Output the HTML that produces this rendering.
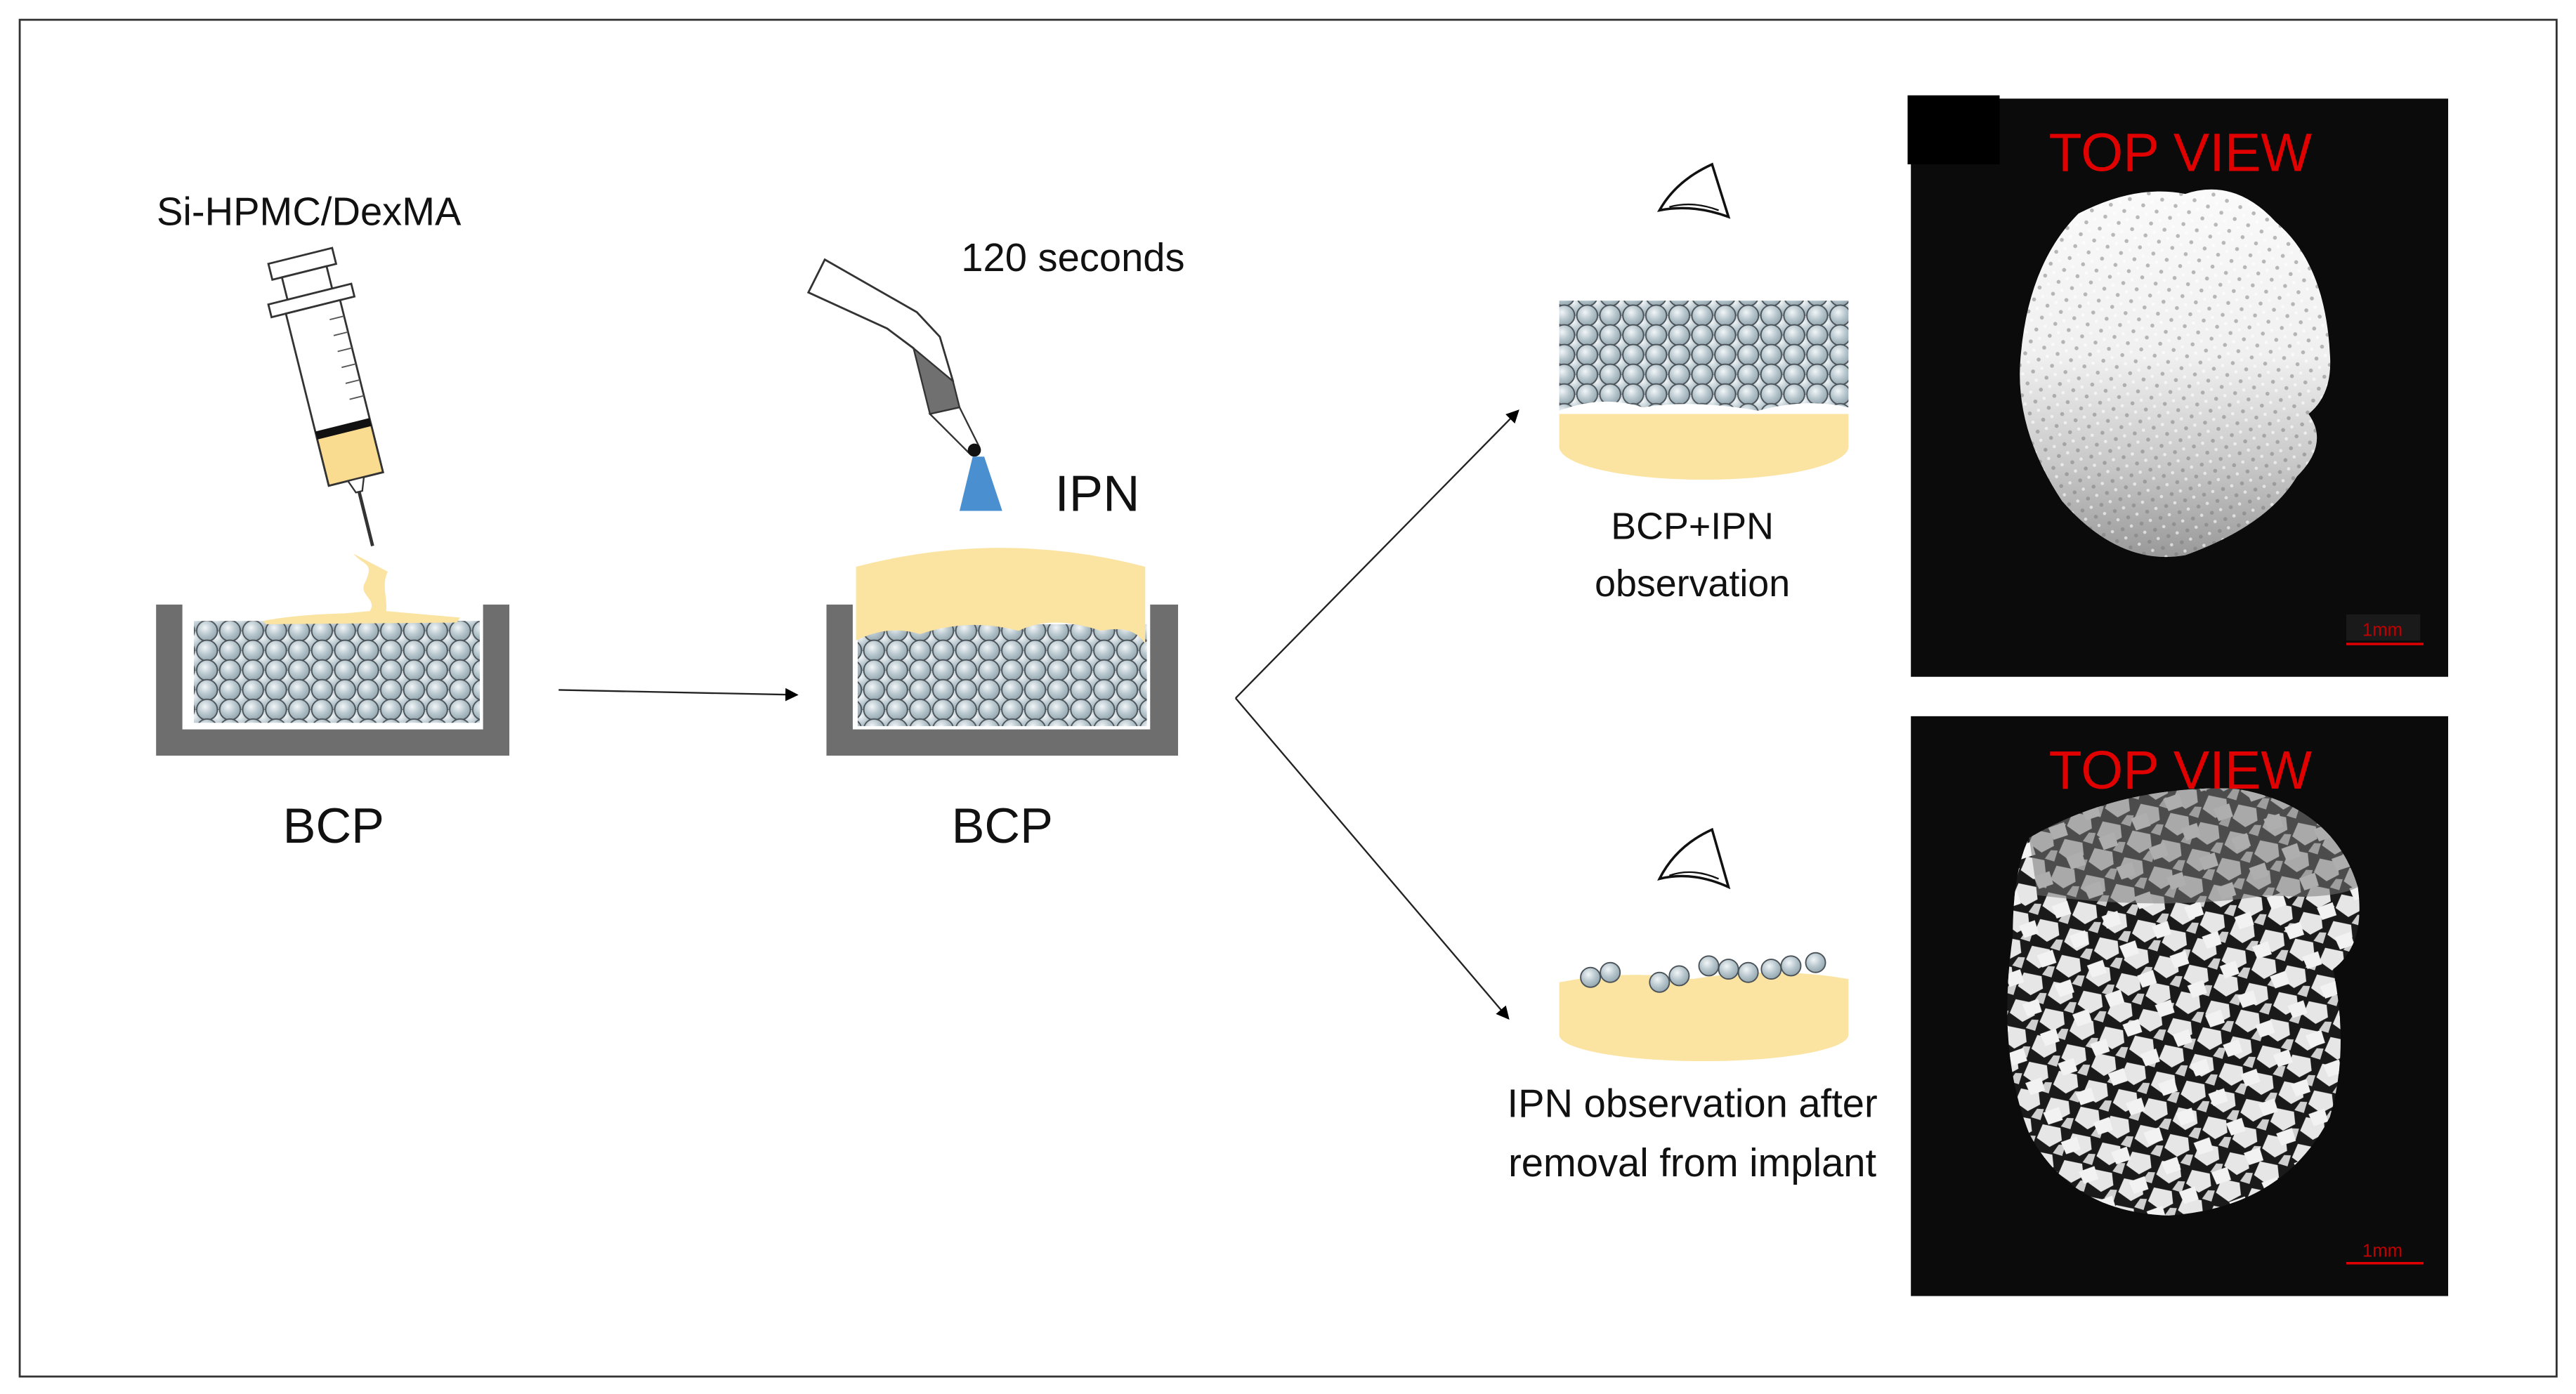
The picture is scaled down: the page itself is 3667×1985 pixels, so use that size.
<!DOCTYPE html>
<html><head><meta charset="utf-8"><style>
html,body{margin:0;padding:0;background:#fff;}
svg{display:block;}
text{font-family:"Liberation Sans","DejaVu Sans",sans-serif;}
</style></head><body>
<svg width="3667" height="1985" viewBox="0 0 1567.8 848.6" xmlns="http://www.w3.org/2000/svg">
<defs>
<radialGradient id="ballg" cx="0.4" cy="0.35" r="0.7">
<stop offset="0" stop-color="#f2f6f8"/><stop offset="0.5" stop-color="#b9c8cf"/><stop offset="1" stop-color="#8fa1aa"/>
</radialGradient>
<pattern id="balls" width="14" height="12" patternUnits="userSpaceOnUse">
<circle cx="7" cy="6" r="6.3" fill="url(#ballg)" stroke="#4a5258" stroke-width="0.8"/>
<circle cx="0" cy="0" r="6.3" fill="url(#ballg)" stroke="#4a5258" stroke-width="0.8"/>
<circle cx="14" cy="0" r="6.3" fill="url(#ballg)" stroke="#4a5258" stroke-width="0.8"/>
<circle cx="0" cy="12" r="6.3" fill="url(#ballg)" stroke="#4a5258" stroke-width="0.8"/>
<circle cx="14" cy="12" r="6.3" fill="url(#ballg)" stroke="#4a5258" stroke-width="0.8"/>
</pattern>
<linearGradient id="blob1" x1="0" y1="0" x2="0" y2="1">
<stop offset="0" stop-color="#fafafa"/><stop offset="0.45" stop-color="#f0f0f0"/><stop offset="0.75" stop-color="#c8c8c8"/><stop offset="1" stop-color="#999"/>
</linearGradient>
<pattern id="speck" width="9" height="8" patternUnits="userSpaceOnUse" patternTransform="rotate(25)">
<rect width="9" height="8" fill="none"/>
<circle cx="2" cy="2" r="1.2" fill="#777" opacity="0.5"/>
<circle cx="6" cy="6" r="1" fill="#fff" opacity="0.6"/>
</pattern>
<pattern id="grains" width="19" height="17" patternUnits="userSpaceOnUse" patternTransform="rotate(17)">
<rect width="19" height="17" fill="#1a1a1a"/>
<polygon points="2,2 13,1 16,8 10,14 1,11" fill="#e6e6e6"/>
<polygon points="15,11 19,10 19,17 13,17" fill="#cfcfcf"/>
</pattern>
<pattern id="grains2" width="23" height="21" patternUnits="userSpaceOnUse" patternTransform="rotate(-31)">
<rect width="23" height="21" fill="none"/>
<polygon points="4,3 14,5 12,13 3,11" fill="#f2f2f2"/>
</pattern>
<marker id="ah" markerWidth="8" markerHeight="8" refX="7" refY="4" orient="auto" markerUnits="userSpaceOnUse">
<path d="M0,0 L8,4 L0,8 z" fill="#000"/>
</marker>
</defs>

<rect x="12" y="12" width="1544" height="826" fill="#fff" stroke="#333" stroke-width="1.2"/>

<!-- Syringe -->
<g transform="translate(205,245) rotate(-14)">
<rect x="-20" y="-92" width="40" height="10" fill="#fff" stroke="#333" stroke-width="1.2"/>
<rect x="-14" y="-82" width="28" height="14" fill="#fff" stroke="#333" stroke-width="1.2"/>
<rect x="-26" y="-68" width="52" height="8" fill="#fff" stroke="#333" stroke-width="1.2"/>
<rect x="-17" y="-60" width="34" height="108" fill="#fff" stroke="#333" stroke-width="1.2"/>
<rect x="-17" y="18" width="34" height="30" fill="#f9dc8f" stroke="#333" stroke-width="1.2"/>
<rect x="-17" y="14" width="34" height="5" fill="#111"/>
<g stroke="#555" stroke-width="0.8"><line x1="8" y1="-50" x2="17" y2="-50"/><line x1="8" y1="-40" x2="17" y2="-40"/><line x1="8" y1="-30" x2="17" y2="-30"/><line x1="8" y1="-20" x2="17" y2="-20"/><line x1="8" y1="-10" x2="17" y2="-10"/><line x1="8" y1="0" x2="17" y2="0"/></g>
<path d="M-5,48 L5,48 L2,56 L-2,56 z" fill="#fff" stroke="#333"/>
<line x1="0" y1="56" x2="0" y2="90" stroke="#333" stroke-width="2"/>
</g>
<path d="M215,337 C222,345 228,342 222,355 C218,362 230,365 225,372 L160,378 L280,376 L235,372 C236,365 232,356 236,348 Z" fill="#fbe3a1"/>

<!-- Left container -->
<rect x="118" y="378" width="174" height="62" fill="url(#balls)"/>
<path d="M95,368 H111 V444 H294 V368 H310 V460 H95 Z" fill="#6e6e6e"/>
<path d="M160,378 C190,372 240,372 280,376 L278,379 L162,380 Z" fill="#fbe3a1"/>
<text x="203" y="513" font-size="30" text-anchor="middle" fill="#111">BCP</text>
<text x="188" y="137" font-size="24" text-anchor="middle" fill="#111">Si-HPMC/DexMA</text>

<!-- arrow 1 -->
<line x1="340" y1="420" x2="485" y2="423" stroke="#222" stroke-width="1" marker-end="url(#ah)"/>

<!-- Middle container -->
<rect x="522" y="380" width="176" height="62" fill="url(#balls)"/>
<path d="M503,368 H519 V444 H700 V368 H717 V460 H503 Z" fill="#6e6e6e"/>
<path d="M521,345 Q609,322 697,345 L697,392 Q690,380 670,384 Q640,374 620,384 Q590,376 560,386 Q540,380 521,390 Z" fill="#fbe3a1"/>
<text x="610" y="513" font-size="30" text-anchor="middle" fill="#111">BCP</text>
<text x="642" y="311" font-size="31" fill="#111">IPN</text>
<text x="585" y="165" font-size="24" fill="#111">120 seconds</text>

<!-- Curing lamp -->
<path d="M492,178 L502,158 L558,190 L572,205 L580,232 L566,238 L556,212 L540,200 Z" fill="#fff" stroke="#333" stroke-width="1.2"/>
<path d="M556,212 L580,232 L584,248 L566,252 Z" fill="#707070" stroke="#333"/>
<path d="M566,252 L584,248 L596,272 L590,276 Z" fill="#fff" stroke="#333"/>
<circle cx="593" cy="274" r="4" fill="#111"/>
<path d="M592,278 L599,278 L610,311 L584,311 Z" fill="#4a90d0"/>

<!-- branch arrows -->
<line x1="752" y1="425" x2="924" y2="250" stroke="#222" stroke-width="1" marker-end="url(#ah)"/>
<line x1="752" y1="425" x2="918" y2="620" stroke="#222" stroke-width="1" marker-end="url(#ah)"/>

<!-- Top sample -->
<ellipse cx="1037" cy="272" rx="88" ry="20" fill="#fbe3a1"/>
<rect x="949" y="252" width="176" height="20" fill="#fbe3a1"/>
<path d="M949,183 H1125 V248 Q1100,242 1070,250 Q1030,243 1000,248 Q975,240 949,250 Z" fill="url(#balls)"/>
<text x="1030" y="328" font-size="23" text-anchor="middle" fill="#111">BCP+IPN</text>
<text x="1030" y="363" font-size="23" text-anchor="middle" fill="#111">observation</text>
<!-- eye top -->
<path d="M1010,128 Q1020,110 1042,100 L1052,132 Q1030,124 1010,128 Z" fill="#fff" stroke="#111" stroke-width="1.5"/>
<path d="M1016,126 Q1030,122 1046,128" stroke="#111" fill="none"/>

<!-- Bottom sample -->
<ellipse cx="1037" cy="630" rx="88" ry="16" fill="#fbe3a1"/>
<path d="M949,598 Q990,590 1030,596 Q1080,588 1125,596 V630 H949 Z" fill="#fbe3a1"/>
<g fill="url(#ballg)" stroke="#4a5258" stroke-width="0.8">
<circle cx="968" cy="595" r="6"/><circle cx="980" cy="592" r="6"/><circle cx="1010" cy="598" r="6"/><circle cx="1022" cy="594" r="6"/>
<circle cx="1040" cy="588" r="6"/><circle cx="1052" cy="590" r="6"/><circle cx="1064" cy="592" r="6"/><circle cx="1078" cy="590" r="6"/><circle cx="1090" cy="588" r="6"/><circle cx="1105" cy="586" r="6"/>
</g>
<text x="1030" y="680" font-size="24" text-anchor="middle" fill="#111">IPN observation after</text>
<text x="1030" y="716" font-size="24" text-anchor="middle" fill="#111">removal from implant</text>
<path d="M1010,535 Q1020,515 1042,505 L1052,540 Q1030,530 1010,535 Z" fill="#fff" stroke="#111" stroke-width="1.5"/>
<path d="M1016,533 Q1030,528 1046,535" stroke="#111" fill="none"/>

<!-- Photo 1 -->
<rect x="1163" y="60" width="327" height="352" fill="#0b0b0b"/>
<rect x="1161" y="58" width="56" height="42" fill="#000"/>
<path d="M1265,130 Q1300,112 1330,118 Q1360,108 1385,135 Q1415,160 1418,215 Q1420,240 1405,252 Q1418,270 1398,290 Q1380,320 1330,338 Q1290,345 1255,305 Q1225,260 1230,215 Q1235,160 1265,130 Z" fill="url(#blob1)"/>
<path d="M1265,130 Q1300,112 1330,118 Q1360,108 1385,135 Q1415,160 1418,215 Q1420,240 1405,252 Q1418,270 1398,290 Q1380,320 1330,338 Q1290,345 1255,305 Q1225,260 1230,215 Q1235,160 1265,130 Z" fill="url(#speck)"/>
<text x="1327" y="104" font-size="33" text-anchor="middle" fill="#e00000">TOP VIEW</text>
<rect x="1428" y="374" width="45" height="16" fill="#1a1a1a"/>
<text x="1450" y="387" font-size="11" text-anchor="middle" fill="#c00000">1mm</text>
<line x1="1428" y1="392" x2="1475" y2="392" stroke="#e00000" stroke-width="1.5"/>

<!-- Photo 2 -->
<rect x="1163" y="436" width="327" height="353" fill="#0b0b0b"/>
<path d="M1235,510 Q1290,478 1360,480 Q1420,490 1435,540 Q1440,575 1420,590 Q1430,640 1418,680 Q1390,735 1320,740 Q1260,738 1235,690 Q1215,640 1225,570 Q1225,530 1235,510 Z" fill="url(#grains)"/>
<path d="M1235,510 Q1290,478 1360,480 Q1420,490 1435,540 Q1440,575 1420,590 Q1430,640 1418,680 Q1390,735 1320,740 Q1260,738 1235,690 Q1215,640 1225,570 Q1225,530 1235,510 Z" fill="url(#grains2)"/>
<path d="M1235,510 Q1290,478 1360,480 Q1420,490 1435,540 Q1420,548 1380,545 Q1320,555 1240,545 Z" fill="#777" opacity="0.55"/>
<text x="1327" y="480" font-size="33" text-anchor="middle" fill="#e00000">TOP VIEW</text>
<text x="1450" y="765" font-size="11" text-anchor="middle" fill="#c00000">1mm</text>
<line x1="1428" y1="769" x2="1475" y2="769" stroke="#e00000" stroke-width="1.5"/>
</svg>
</body></html>
